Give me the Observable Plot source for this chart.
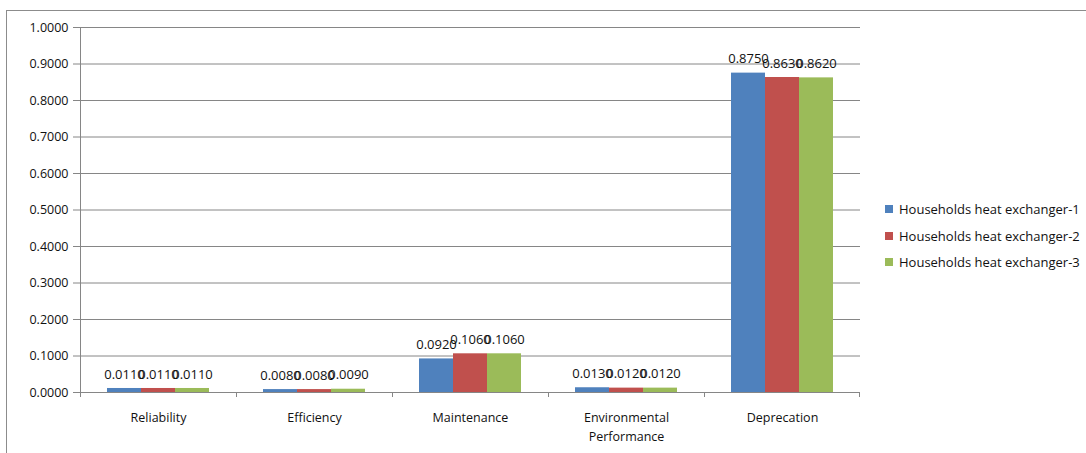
<!DOCTYPE html>
<html>
<head>
<meta charset="utf-8">
<script src="https://cdn.jsdelivr.net/npm/d3@7"></script>
<script src="https://cdn.jsdelivr.net/npm/@observablehq/plot@0.6"></script>
<style>
  html, body { margin: 0; padding: 0; background: #fff; }
  #wrap { position: relative; width: 1086px; height: 453px; overflow: hidden; font-family: "Open Sans", sans-serif; }
  #border { position: absolute; left: 6px; top: 10px; width: 1200px; height: 600px; border-left: 1px solid #8c8c8c; border-top: 1px solid #8c8c8c; }
  #chart { position: absolute; left: 0; top: 0; }
  #legend { position: absolute; left: 885px; top: 196px; font-size: 13px; color: #111; }
  .item { display: flex; align-items: center; height: 26.5px; }
  .sw { width: 8px; height: 8px; margin-right: 6px; }
</style>
</head>
<body>
<div id="wrap">
  <div id="border"></div>
  <div id="chart"></div>
  <div id="legend"></div>
</div>
<script>
const categories = ["Reliability", "Efficiency", "Maintenance", "Environmental\nPerformance", "Deprecation"];
const series = ["Households heat exchanger-1", "Households heat exchanger-2", "Households heat exchanger-3"];
const colors = ["#4F81BD", "#C0504D", "#9BBB59"];
const values1 = [0.011, 0.008, 0.092, 0.013, 0.875];
const values2 = [0.011, 0.008, 0.106, 0.012, 0.863];
const values3 = [0.011, 0.009, 0.106, 0.012, 0.862];
const yTicks = [0, 0.1, 0.2, 0.3, 0.4, 0.5, 0.6, 0.7, 0.8, 0.9, 1.0];

const allValues = [values1, values2, values3];
const data = [];
categories.forEach((c, i) => {
  series.forEach((s, j) => data.push({category: c, series: s, value: allValues[j][i]}));
});

const fmt = d3.format(".4f");

const plot = Plot.plot({
  width: 1086,
  height: 453,
  marginLeft: 79,
  marginRight: 225,
  marginTop: 27,
  marginBottom: 61,
  style: {fontFamily: "Open Sans, sans-serif", fontSize: "12px", color: "#111", background: "transparent"},
  fx: {domain: categories, padding: 0, label: null},
  x: {domain: series, paddingInner: 0, paddingOuter: 0.75, axis: null},
  y: {domain: [0, 1], label: null},
  color: {domain: series, range: colors},
  marks: [
    Plot.gridY(yTicks, {stroke: "#868686", strokeOpacity: 1, strokeWidth: 1}),
    Plot.axisY(yTicks, {anchor: "left", tickFormat: fmt, tickSize: 7, tickPadding: 5, stroke: "#868686", fontSize: 12.5, fill: "#111", label: null}),
    Plot.axisFx({anchor: "bottom", tickSize: 0, tickPadding: 16, fontSize: 12.5, fill: "#111", label: null, lineHeight: 1.5}),
    Plot.barY(data, {fx: "category", x: "series", y: "value", fill: "series"}),
    Plot.text(data, {fx: "category", x: "series", y: "value", text: d => fmt(d.value), dy: -14, fontSize: 13, fill: "#111"})
  ]
});

document.getElementById("chart").appendChild(plot);

// axis lines and category boundary ticks, placed with the plot's own scales
const fx = plot.scale("fx");
const y = plot.scale("y");
const svg = d3.select(plot);
const bw = fx.bandwidth;
const x0 = fx.apply(categories[0]);
const xEnd = fx.apply(categories[categories.length - 1]) + bw;
const yZero = y.apply(0);
const yTop = y.apply(1);
const g = svg.append("g").attr("stroke", "#868686").attr("stroke-width", 1);
g.append("line").attr("x1", x0 + 0.5).attr("x2", x0 + 0.5).attr("y1", yTop).attr("y2", yZero);
g.append("line").attr("x1", x0).attr("x2", xEnd).attr("y1", yZero + 0.5).attr("y2", yZero + 0.5);
categories.forEach(c => {
  const xb = fx.apply(c);
  g.append("line").attr("x1", xb + 0.5).attr("x2", xb + 0.5).attr("y1", yZero).attr("y2", yZero + 5);
});
g.append("line").attr("x1", xEnd - 0.5).attr("x2", xEnd - 0.5).attr("y1", yZero).attr("y2", yZero + 5);

const legend = document.getElementById("legend");
series.forEach((s, i) => {
  const it = document.createElement("div");
  it.className = "item";
  it.innerHTML = `<span class="sw" style="background:${colors[i]}"></span><span>${s}</span>`;
  legend.appendChild(it);
});
</script>
</body>
</html>
